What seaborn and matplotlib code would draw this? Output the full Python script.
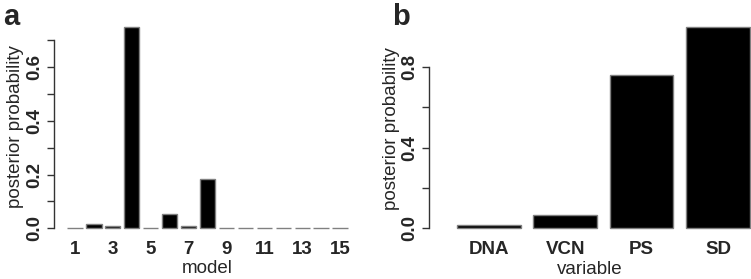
import numpy as np
import pandas as pd
import matplotlib
matplotlib.use("Agg")
import matplotlib.pyplot as plt
import seaborn as sns

# posterior probabilities per model (panel a)
models = [str(i) for i in range(1, 16)]
model_prob = [0.0, 0.016, 0.008, 0.747, 0.0, 0.053, 0.008, 0.182,
              0.0, 0.0, 0.0, 0.0, 0.0, 0.0, 0.0]
model_ticks = ["1", "3", "5", "7", "9", "11", "13", "15"]

# posterior inclusion probability per variable (panel b)
variables = ["DNA", "VCN", "PS", "SD"]
var_prob = [0.015, 0.066, 0.759, 0.995]

sns.set_style("ticks")
plt.rcParams['font.family'] = ['Liberation Sans', 'DejaVu Sans']

W, H = 751, 279
fig = plt.figure(figsize=(W / 100, H / 100), dpi=100)


def px_axes(left, right, top, bottom):
    return fig.add_axes([left / W, 1 - bottom / H, (right - left) / W, (bottom - top) / H])


edge = "#808080"
axcol = "#333333"

# ---- panel a
ylo_a, yhi_a = -0.02, 0.78
ppu_a = 269.0
ax1 = px_axes(54, 361, 228.3 - yhi_a * ppu_a, 228.3 - ylo_a * ppu_a)
df_a = pd.DataFrame({"model": models, "prob": model_prob})
sns.barplot(data=df_a, x="model", y="prob", order=models, color="black",
            edgecolor=edge, linewidth=1, width=0.833, saturation=1, ax=ax1)
ax1.set_xlim(-1.086, 15.086)
ax1.set_ylim(ylo_a, yhi_a)
ax1.set_xticks(range(0, 15, 2))
ax1.set_xticklabels(model_ticks)
ax1.set_yticks(np.arange(0, 0.71, 0.1))
ax1.set_yticklabels(["0.0", "", "0.2", "", "0.4", "", "0.6", ""])
ax1.set_xlabel("model", fontsize=13.5, labelpad=2)
ax1.set_ylabel("posterior probability", fontsize=13.5, labelpad=1)

# ---- panel b
ylo_b, yhi_b = -0.03, 1.02
ppu_b = 202.0
ax2 = px_axes(429, 751, 228.3 - yhi_b * ppu_b, 228.3 - ylo_b * ppu_b)
df_b = pd.DataFrame({"variable": variables, "prob": var_prob})
sns.barplot(data=df_b, x="variable", y="prob", order=variables, color="black",
            edgecolor=edge, linewidth=1, width=0.833, saturation=1, ax=ax2)
ax2.set_xlim(-0.783, 3.431)
ax2.set_ylim(ylo_b, yhi_b)
ax2.set_yticks(np.arange(0, 0.81, 0.2))
ax2.set_yticklabels(["0.0", "", "0.4", "", "0.8"])
ax2.set_xlabel("variable", fontsize=13.5, labelpad=2)
ax2.set_ylabel("posterior probability", fontsize=13.5, labelpad=1)

for ax, top in [(ax1, 0.7), (ax2, 0.8)]:
    for s in ["top", "right", "bottom"]:
        ax.spines[s].set_visible(False)
    ax.spines["left"].set_bounds(0, top)
    ax.spines["left"].set_color(axcol)
    ax.spines["left"].set_linewidth(1)
    ax.tick_params(axis="x", length=0, pad=5, labelsize=13.5)
    ax.tick_params(axis="y", length=5, width=1, color=axcol, pad=3, labelsize=13.5)
    for lab in ax.get_xticklabels():
        lab.set_fontweight("bold")
    for lab in ax.get_yticklabels():
        lab.set_fontweight("bold")
        lab.set_rotation(90)
        lab.set_verticalalignment("center")

fig.text(3 / W, 1 - 25 / H, "a", fontsize=21, fontweight="bold", va="baseline", ha="left")
fig.text(392 / W, 1 - 25 / H, "b", fontsize=21, fontweight="bold", va="baseline", ha="left")

fig.savefig("out.png", dpi=100)
